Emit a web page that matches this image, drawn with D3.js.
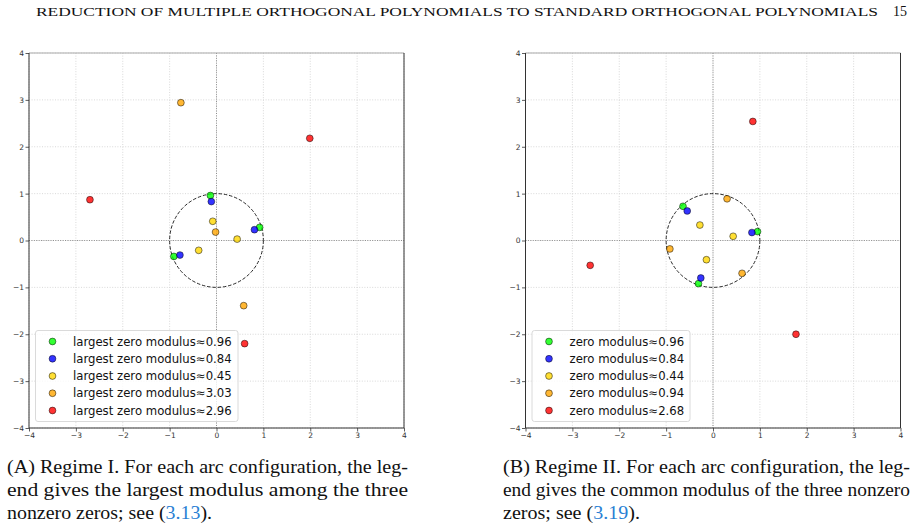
<!DOCTYPE html>
<html>
<head>
<meta charset="utf-8">
<script src="https://cdn.jsdelivr.net/npm/d3@7"></script>
<style>
  body { margin: 0; background: #fff; }
  svg { display: block; }
</style>
</head>
<body>
<div id="chart"></div>
<script>
// series colours (matplotlib lime / blue / gold / orange / red)
var seriesColors = ["#00ff00", "#0000ff", "#ffd700", "#ffa500", "#ff0000"];

// Regime I: legend labels and zeros [re, im] for each arc configuration
var regime1Labels = ["largest zero modulus\u22480.96", "largest zero modulus\u22480.84",
  "largest zero modulus\u22480.45", "largest zero modulus\u22483.03", "largest zero modulus\u22482.96"];
var regime1Green  = [[-0.13, 0.96], [0.92, 0.28], [-0.91, -0.34]];
var regime1Blue   = [[-0.11, 0.83], [0.81, 0.23], [-0.78, -0.31]];
var regime1Yellow = [[-0.08, 0.41], [0.44, 0.03], [-0.38, -0.21]];
var regime1Orange = [[-0.76, 2.94], [-0.02, 0.18], [0.58, -1.39]];
var regime1Red    = [[-2.70, 0.87], [1.99, 2.18], [0.60, -2.20]];

// Regime II
var regime2Labels = ["zero modulus\u22480.96", "zero modulus\u22480.84",
  "zero modulus\u22480.44", "zero modulus\u22480.94", "zero modulus\u22482.68"];
var regime2Green  = [[-0.64, 0.73], [0.95, 0.19], [-0.31, -0.92]];
var regime2Blue   = [[-0.55, 0.63], [0.83, 0.17], [-0.26, -0.80]];
var regime2Yellow = [[-0.28, 0.33], [0.43, 0.09], [-0.14, -0.41]];
var regime2Orange = [[0.30, 0.89], [-0.92, -0.18], [0.62, -0.70]];
var regime2Red    = [[0.85, 2.54], [-2.62, -0.53], [1.77, -2.00]];

var axisTicks = [-4, -3, -2, -1, 0, 1, 2, 3, 4];

var headerText = "REDUCTION OF MULTIPLE ORTHOGONAL POLYNOMIALS TO STANDARD ORTHOGONAL POLYNOMIALS";
var pageNumber = "15";

var captionA = ["(A) Regime I. For each arc configuration, the leg-",
  "end gives the largest modulus among the three", "nonzero zeros; see "];
var captionB = ["(B) Regime II. For each arc configuration, the leg-",
  "end gives the common modulus of the three nonzero", "zeros; see "];
var refA = "3.13", refB = "3.19";

var W = 915, H = 529;
var svg = d3.select("#chart").append("svg")
  .attr("width", W).attr("height", H);

// page header
svg.append("text")
  .attr("x", 36).attr("y", 16)
  .attr("font-family", "Liberation Serif, serif")
  .attr("font-size", 13.5)
  .attr("textLength", 842).attr("lengthAdjust", "spacingAndGlyphs")
  .attr("fill", "#111")
  .text(headerText);
svg.append("text")
  .attr("x", 907).attr("y", 16)
  .attr("text-anchor", "end")
  .attr("font-family", "Liberation Serif, serif")
  .attr("font-size", 14)
  .attr("fill", "#111")
  .text(pageNumber);

function drawPanel(left, series, labels, legendW) {
  var size = 375, top = 53;
  var x = d3.scaleLinear().domain([-4, 4]).range([0, size]);
  var y = d3.scaleLinear().domain([-4, 4]).range([size, 0]);

  var g = svg.append("g").attr("transform", "translate(" + left + "," + top + ")");

  // grid
  g.append("g").selectAll("line").data(axisTicks).enter().append("line")
    .attr("x1", function(d) { return x(d); }).attr("x2", function(d) { return x(d); })
    .attr("y1", 0).attr("y2", size)
    .attr("stroke", "#cfcfcf").attr("stroke-width", 0.8).attr("stroke-dasharray", "1,1.6");
  g.append("g").selectAll("line").data(axisTicks).enter().append("line")
    .attr("y1", function(d) { return y(d); }).attr("y2", function(d) { return y(d); })
    .attr("x1", 0).attr("x2", size)
    .attr("stroke", "#cfcfcf").attr("stroke-width", 0.8).attr("stroke-dasharray", "1,1.6");

  // zero lines
  g.append("line").attr("x1", x(0)).attr("x2", x(0)).attr("y1", 0).attr("y2", size)
    .attr("stroke", "#777").attr("stroke-width", 0.8).attr("stroke-dasharray", "1,1.4");
  g.append("line").attr("y1", y(0)).attr("y2", y(0)).attr("x1", 0).attr("x2", size)
    .attr("stroke", "#777").attr("stroke-width", 0.8).attr("stroke-dasharray", "1,1.4");

  // unit circle
  g.append("circle")
    .attr("cx", x(0)).attr("cy", y(0)).attr("r", x(1) - x(0))
    .attr("fill", "none").attr("stroke", "#111").attr("stroke-width", 0.9)
    .attr("stroke-dasharray", "3.5,1.8");

  // axes
  var fmt = function(d) { return d < 0 ? "\u2212" + Math.abs(d) : d; };
  var xa = g.append("g").attr("transform", "translate(0," + size + ")")
    .call(d3.axisBottom(x).tickValues(axisTicks).tickFormat(fmt).tickSize(3.5).tickPadding(1.5));
  var ya = g.append("g")
    .call(d3.axisLeft(y).tickValues(axisTicks).tickFormat(fmt).tickSize(3.5).tickPadding(1.5));
  [xa, ya].forEach(function(a) {
    a.select(".domain").remove();
    a.selectAll("line").attr("stroke", "#333").attr("stroke-width", 0.8);
    a.selectAll("text").attr("font-family", "DejaVu Sans, sans-serif")
      .attr("font-size", 7.5).attr("fill", "#333");
  });

  // frame
  g.append("line").attr("x1", 0).attr("x2", size).attr("y1", 0).attr("y2", 0)
    .attr("stroke", "#aaa").attr("stroke-width", 1.2);
  g.append("line").attr("x1", 0).attr("x2", 0).attr("y1", 0).attr("y2", size)
    .attr("stroke", "#333").attr("stroke-width", 1);
  g.append("line").attr("x1", size).attr("x2", size).attr("y1", 0).attr("y2", size)
    .attr("stroke", "#333").attr("stroke-width", 1);
  g.append("line").attr("x1", 0).attr("x2", size).attr("y1", size).attr("y2", size)
    .attr("stroke", "#333").attr("stroke-width", 1);

  // zeros
  series.forEach(function(pts, i) {
    g.append("g").selectAll("circle").data(pts).enter().append("circle")
      .attr("cx", function(d) { return x(d[0]); })
      .attr("cy", function(d) { return y(d[1]); })
      .attr("r", 3.4)
      .attr("fill", seriesColors[i]).attr("fill-opacity", 0.8)
      .attr("stroke", "#000").attr("stroke-opacity", 0.8).attr("stroke-width", 0.6);
  });

  // legend
  var lg = g.append("g").attr("transform", "translate(6.5,277.5)");
  lg.append("rect").attr("width", legendW).attr("height", 91).attr("rx", 2.5)
    .attr("fill", "#fff").attr("fill-opacity", 0.8)
    .attr("stroke", "#d6d6d6").attr("stroke-width", 0.9);
  labels.forEach(function(lab, i) {
    var ry = 11 + i * 17.25;
    lg.append("circle").attr("cx", 17).attr("cy", ry).attr("r", 3.4)
      .attr("fill", seriesColors[i]).attr("fill-opacity", 0.8)
      .attr("stroke", "#000").attr("stroke-opacity", 0.8).attr("stroke-width", 0.6);
    lg.append("text").attr("x", 37.5).attr("y", ry + 4.2)
      .attr("font-family", "DejaVu Sans, sans-serif").attr("font-size", 11.7)
      .attr("fill", "#111").text(lab);
  });
}

drawPanel(29, [regime1Green, regime1Blue, regime1Yellow, regime1Orange, regime1Red], regime1Labels, 202.5);
drawPanel(525.5, [regime2Green, regime2Blue, regime2Yellow, regime2Orange, regime2Red], regime2Labels, 158);

// captions
function caption(left, right, lines, ref, lastW) {
  var g = svg.append("g").attr("font-family", "Liberation Serif, serif")
    .attr("font-size", 19.5).attr("fill", "#111");
  lines.forEach(function(t, i) {
    var tx = g.append("text").attr("x", left).attr("y", 473 + i * 23)
      .attr("lengthAdjust", "spacingAndGlyphs");
    if (i < 2) {
      tx.attr("textLength", right - left).text(t);
    } else {
      tx.attr("textLength", lastW).text(t);
      tx.append("tspan").text("(");
      tx.append("tspan").attr("fill", "#2a7fd4").text(ref);
      tx.append("tspan").text(").");
    }
  });
}
caption(7, 408, captionA, refA, 205);
caption(503, 910, captionB, refB, 137);
</script>
</body>
</html>
